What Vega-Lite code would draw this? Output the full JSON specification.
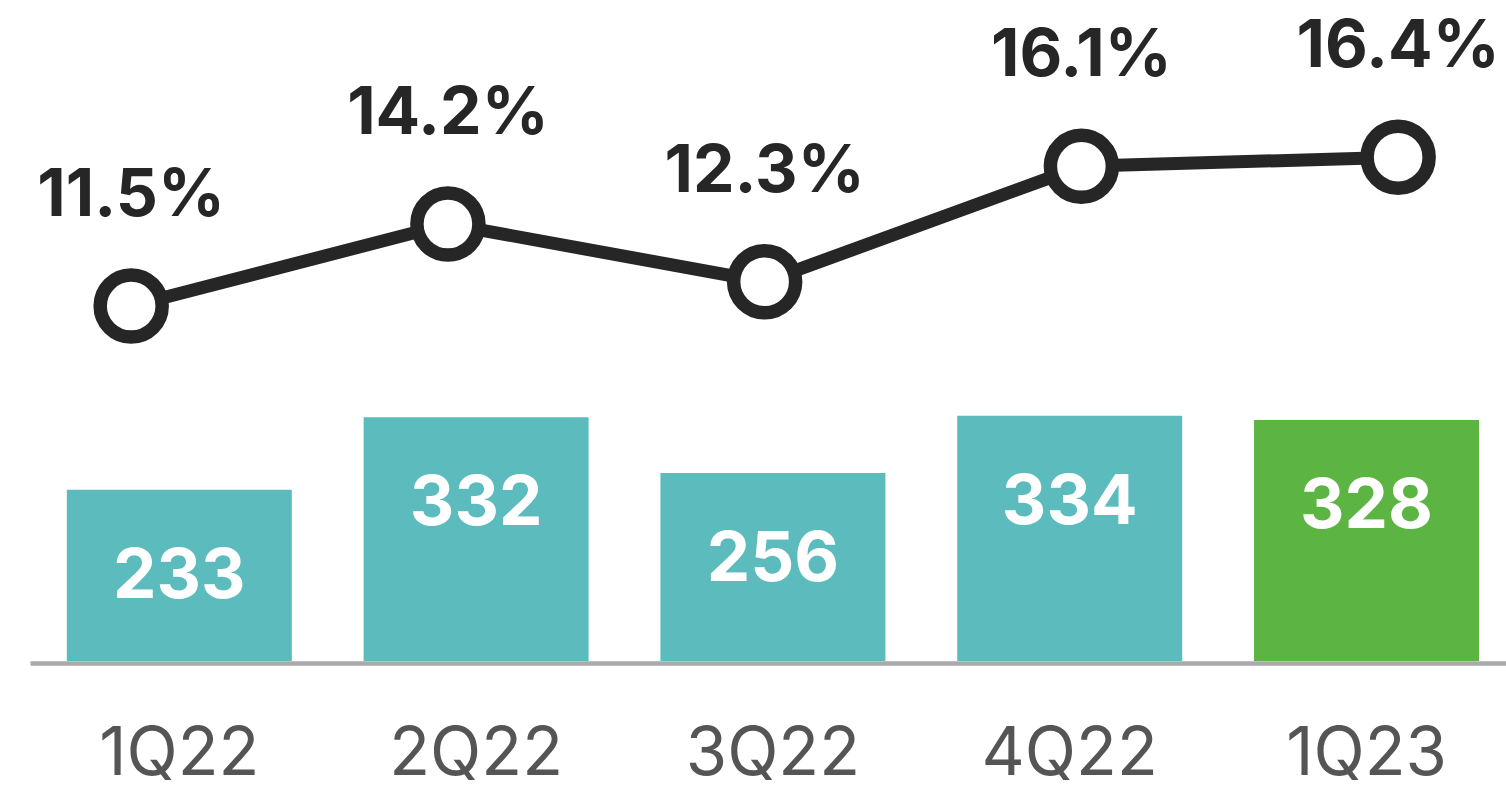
{
  "$schema": "https://vega.github.io/schema/vega-lite/v6.json",
  "width": 1476,
  "height": 661,
  "autosize": {"type": "none"},
  "padding": {"left": 30, "top": 0, "right": 0, "bottom": 124},
  "background": "white",
  "config": {"view": {"stroke": null}, "font": "Inter"},
  "data": {
    "values": [
      {"quarter": "1Q22", "value": 233, "margin": 11.5, "margin_label": "11.5%", "period": "past"},
      {"quarter": "2Q22", "value": 332, "margin": 14.2, "margin_label": "14.2%", "period": "past"},
      {"quarter": "3Q22", "value": 256, "margin": 12.3, "margin_label": "12.3%", "period": "past"},
      {"quarter": "4Q22", "value": 334, "margin": 16.1, "margin_label": "16.1%", "period": "past"},
      {"quarter": "1Q23", "value": 328, "margin": 16.4, "margin_label": "16.4%", "period": "current"}
    ]
  },
  "layer": [
    {
      "encoding": {
        "x": {
          "field": "quarter",
          "type": "nominal",
          "sort": null,
          "scale": {"paddingInner": 0.242, "paddingOuter": 0.1075, "align": 0.577},
          "axis": {
            "title": null,
            "labelAngle": 0,
            "domain": true,
            "domainColor": "#aaaaaa",
            "domainWidth": 4.5,
            "ticks": false,
            "tickSize": 0,
            "grid": false,
            "offset": 2,
            "labelPadding": 111,
            "labelBaseline": "alphabetic",
            "labelFont": "Inter",
            "labelFontSize": 67,
            "labelFontWeight": "normal",
            "labelColor": "#555555"
          }
        },
        "y": {
          "field": "value",
          "type": "quantitative",
          "scale": {"domain": [0, 900]},
          "axis": null
        }
      },
      "layer": [
        {
          "mark": {"type": "bar"},
          "encoding": {
            "color": {
              "field": "period",
              "type": "nominal",
              "scale": {"domain": ["past", "current"], "range": ["#5cbcbd", "#5cb443"]},
              "legend": null
            }
          }
        },
        {
          "mark": {
            "type": "text",
            "baseline": "alphabetic",
            "align": "center",
            "dy": 108,
            "font": "Inter",
            "fontSize": 69,
            "fontWeight": "bold",
            "fill": "#ffffff"
          },
          "encoding": {"text": {"field": "value", "type": "quantitative"}}
        }
      ]
    },
    {
      "encoding": {
        "x": {
          "field": "quarter",
          "type": "ordinal",
          "sort": null,
          "scale": {"type": "point", "padding": 0.33, "align": 0.484},
          "axis": null
        },
        "y": {
          "field": "margin",
          "type": "quantitative",
          "scale": {"domain": [-0.188, 21.577], "nice": false, "zero": false},
          "axis": null
        }
      },
      "layer": [
        {
          "mark": {"type": "line", "color": "#262626", "strokeWidth": 13}
        },
        {
          "mark": {
            "type": "point",
            "shape": "circle",
            "filled": false,
            "fill": "#ffffff",
            "fillOpacity": 1,
            "stroke": "#262626",
            "strokeWidth": 13.5,
            "size": 3844,
            "opacity": 1
          }
        },
        {
          "mark": {
            "type": "text",
            "baseline": "alphabetic",
            "align": "center",
            "dy": -90,
            "font": "Inter",
            "fontSize": 66,
            "fontWeight": "bold",
            "fill": "#262626"
          },
          "encoding": {"text": {"field": "margin_label", "type": "nominal"}}
        }
      ]
    }
  ],
  "resolve": {"scale": {"x": "independent", "y": "independent", "color": "independent"}}
}
